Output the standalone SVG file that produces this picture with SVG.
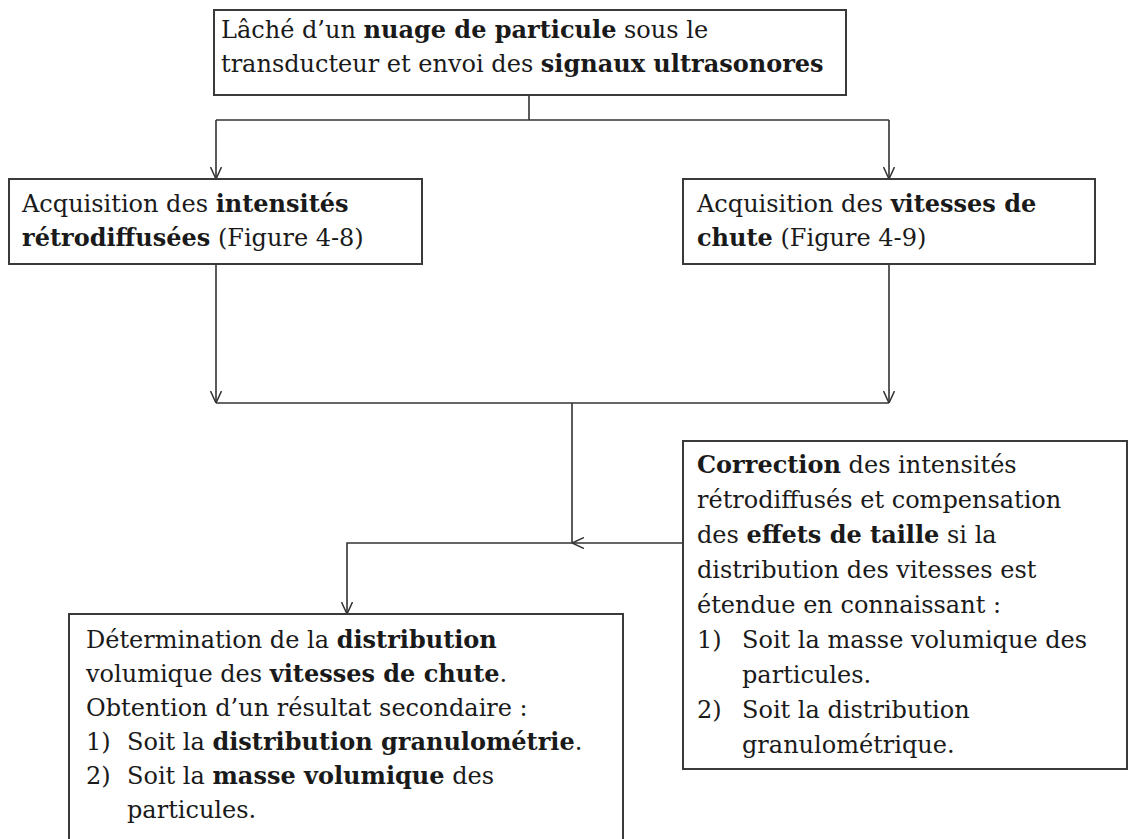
<svg xmlns="http://www.w3.org/2000/svg" width="1129" height="839" viewBox="0 0 1129 839">
<style>
.box{fill:#fff;stroke:#3a3a3a;stroke-width:2}
.t{font-family:"DejaVu Serif","Liberation Serif",serif;font-size:24px;fill:#1a1a1a}
.b{font-weight:bold}
.c{fill:none;stroke:#333;stroke-width:1.6}
</style>
<defs>
<marker id="ah" viewBox="0 0 12 12" refX="12" refY="6" markerWidth="12" markerHeight="12" markerUnits="userSpaceOnUse" orient="auto">
<path d="M0,0.5 L12,6 L0,11.5" fill="none" stroke="#333" stroke-width="1.5"/>
</marker>
</defs>
<rect width="1129" height="839" fill="#fff"/>
<g id="connectors">
<path class="c" d="M529,95 V120"/>
<path class="c" d="M216,120 H889"/>
<path class="c" d="M216,120 V179" marker-end="url(#ah)"/>
<path class="c" d="M889,120 V179" marker-end="url(#ah)"/>
<path class="c" d="M216,264 V403" marker-end="url(#ah)"/>
<path class="c" d="M889,264 V403" marker-end="url(#ah)"/>
<path class="c" d="M216,403 H889"/>
<path class="c" d="M572,403 V543 H347 V614" marker-end="url(#ah)"/>
<path class="c" d="M683,543 H572" marker-end="url(#ah)"/>
</g>
<g id="n-top">
<rect class="box" x="214" y="10" width="632" height="85"/>
<text class="t" x="221" y="38">Lâché d’un <tspan class="b">nuage de particule</tspan> sous le</text>
<text class="t" x="221" y="72">transducteur et envoi des <tspan class="b">signaux ultrasonores</tspan></text>
</g>
<g id="n-intensites">
<rect class="box" x="9" y="179" width="413" height="85"/>
<text class="t" x="22" y="212">Acquisition des <tspan class="b">intensités</tspan></text>
<text class="t" x="22" y="246"><tspan class="b">rétrodiffusées</tspan> (Figure 4-8)</text>
</g>
<g id="n-vitesses">
<rect class="box" x="683" y="179" width="412" height="85"/>
<text class="t" x="697" y="212">Acquisition des <tspan class="b">vitesses de</tspan></text>
<text class="t" x="697" y="246"><tspan class="b">chute</tspan> (Figure 4-9)</text>
</g>
<g id="n-correction">
<rect class="box" x="683" y="441" width="444" height="328"/>
<text class="t" x="697" y="473"><tspan class="b">Correction</tspan> des intensités</text>
<text class="t" x="697" y="508">rétrodiffusés et compensation</text>
<text class="t" x="697" y="543">des <tspan class="b">effets de taille</tspan> si la</text>
<text class="t" x="697" y="578">distribution des vitesses est</text>
<text class="t" x="697" y="613">étendue en connaissant :</text>
<text class="t" x="697" y="648">1)</text>
<text class="t" x="742" y="648">Soit la masse volumique des</text>
<text class="t" x="742" y="683">particules.</text>
<text class="t" x="697" y="718">2)</text>
<text class="t" x="742" y="718">Soit la distribution</text>
<text class="t" x="742" y="753">granulométrique.</text>
</g>
<g id="n-determination">
<rect class="box" x="69" y="614" width="554" height="240"/>
<text class="t" x="86" y="648">Détermination de la <tspan class="b">distribution</tspan></text>
<text class="t" x="86" y="682">volumique des <tspan class="b">vitesses de chute</tspan>.</text>
<text class="t" x="86" y="716">Obtention d’un résultat secondaire :</text>
<text class="t" x="86" y="750">1)</text>
<text class="t" x="127" y="750">Soit la <tspan class="b">distribution granulométrie</tspan>.</text>
<text class="t" x="86" y="784">2)</text>
<text class="t" x="127" y="784">Soit la <tspan class="b">masse volumique</tspan> des</text>
<text class="t" x="127" y="818">particules.</text>
</g>
</svg>
